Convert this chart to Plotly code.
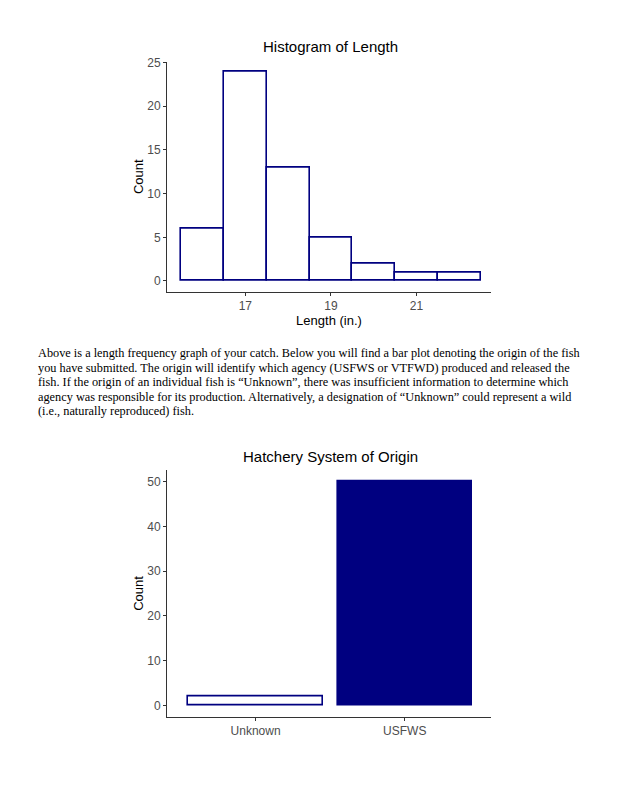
import plotly.graph_objects as go

# Histogram data (bin centers, binwidth 1)
length_bins = [16, 17, 18, 19, 20, 21, 22]
length_counts = [6, 24, 13, 5, 2, 1, 1]
hist_xticks = [17, 19, 21]
hist_yticks = [0, 5, 10, 15, 20, 25]

# Origin data
origin_cats = ["Unknown", "USFWS"]
origin_counts = [2, 50]
origin_fills = ["white", "#000080"]
origin_yticks = [0, 10, 20, 30, 40, 50]

paragraph_lines = [
    "Above is a length frequency graph of your catch. Below you will find a bar plot denoting the origin of the fish",
    "you have submitted. The origin will identify which agency (USFWS or VTFWD) produced and released the",
    "fish. If the origin of an individual fish is \u201cUnknown\u201d, there was insufficient information to determine which",
    "agency was responsible for its production. Alternatively, a designation of \u201cUnknown\u201d could represent a wild",
    "(i.e., naturally reproduced) fish.",
]

# page offset of the figure div (body margin) and figure size
OX, OY = 8, 11
W, H = 614, 780
NAVY = "#000080"
AX = "#333333"
TICKC = "#4d4d4d"
SANS = "Liberation Sans, Arial, sans-serif"


def px_x(p):
    return (p - OX) / W


def px_y(p):
    return 1 - (p - OY) / H


fig = go.Figure()

fig.add_trace(go.Bar(
    x=length_bins, y=length_counts, width=1,
    marker=dict(color="white", line=dict(color=NAVY, width=1.6)),
    xaxis="x", yaxis="y", showlegend=False, hoverinfo="x+y",
))

fig.add_trace(go.Bar(
    x=[0, 1], y=origin_counts, width=0.9,
    marker=dict(color=origin_fills, line=dict(color=NAVY, width=1.6)),
    xaxis="x2", yaxis="y2", showlegend=False, hoverinfo="y",
))

axis_common = dict(
    showline=True, linecolor=AX, linewidth=1, mirror=False,
    showgrid=False, zeroline=False,
    ticks="outside", ticklen=3, tickwidth=1, tickcolor=AX,
    tickfont=dict(family=SANS, size=12, color=TICKC),
)

fig.update_layout(
    width=W, height=H,
    margin=dict(l=0, r=0, t=0, b=0),
    paper_bgcolor="white", plot_bgcolor="white",
    bargap=0,
    xaxis=dict(
        domain=[px_x(167), px_x(491)], anchor="y",
        range=[15.17, 22.74], tickmode="array", tickvals=hist_xticks,
        title=dict(text="Length (in.)", font=dict(family=SANS, size=13, color="black"), standoff=0),
        **axis_common,
    ),
    yaxis=dict(
        domain=[px_y(291), px_y(59)], anchor="x",
        range=[-1.244, 25.11], tickmode="array", tickvals=hist_yticks,
        title=dict(text="Count", font=dict(family=SANS, size=13, color="black"), standoff=0),
        **axis_common,
    ),
    xaxis2=dict(
        domain=[px_x(167), px_x(491)], anchor="y2",
        range=[-0.594, 1.578], tickmode="array", tickvals=[0, 1], ticktext=origin_cats,
        **axis_common,
    ),
    yaxis2=dict(
        domain=[px_y(719), px_y(471)], anchor="x2",
        range=[-2.5, 52.5], tickmode="array", tickvals=origin_yticks,
        title=dict(text="Count", font=dict(family=SANS, size=13, color="black"), standoff=0),
        **axis_common,
    ),
)

fig.add_annotation(
    text="Histogram of Length", x=px_x(330), y=px_y(44), xref="paper", yref="paper",
    showarrow=False, xanchor="center", yanchor="middle",
    font=dict(family=SANS, size=15, color="black"),
)
fig.add_annotation(
    text="Hatchery System of Origin", x=px_x(330.5), y=px_y(457), xref="paper", yref="paper",
    showarrow=False, xanchor="center", yanchor="middle",
    font=dict(family=SANS, size=15, color="black"),
)

line_centers = [353, 367.5, 382, 396.5, 411]
for txt, yc in zip(paragraph_lines, line_centers):
    fig.add_annotation(
        text=txt, x=px_x(36), y=px_y(yc), xref="paper", yref="paper",
        showarrow=False, xanchor="left", yanchor="middle",
        font=dict(family="Liberation Serif, Times New Roman, serif", size=12.3, color="black"),
    )

fig.write_html("out.html")
